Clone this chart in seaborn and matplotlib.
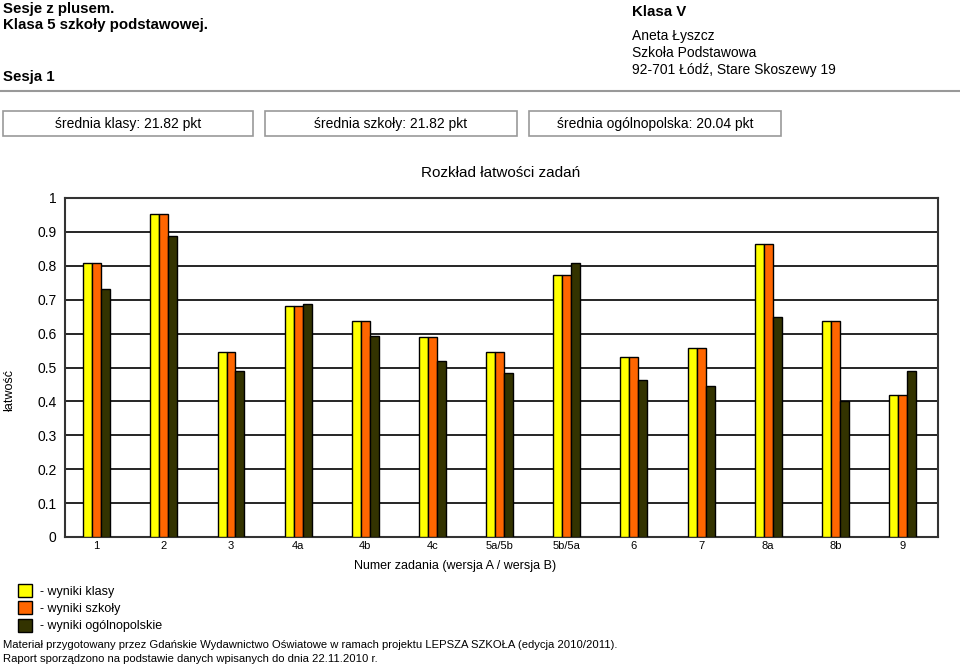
import matplotlib
matplotlib.use("Agg")
import matplotlib.pyplot as plt
import seaborn as sns
import pandas as pd
from matplotlib.patches import Rectangle
from matplotlib.lines import Line2D

categories = ["1", "2", "3", "4a", "4b", "4c", "5a/5b", "5b/5a", "6", "7", "8a", "8b", "9"]
class_vals = [0.807, 0.954, 0.545, 0.682, 0.636, 0.591, 0.545, 0.772, 0.530, 0.557, 0.864, 0.636, 0.420]
school_vals = [0.807, 0.954, 0.545, 0.682, 0.636, 0.591, 0.545, 0.772, 0.530, 0.557, 0.864, 0.636, 0.420]
national_vals = [0.733, 0.889, 0.489, 0.688, 0.592, 0.518, 0.483, 0.809, 0.463, 0.444, 0.648, 0.400, 0.490]
series_names = ["- wyniki klasy", "- wyniki szkoły", "- wyniki ogólnopolskie"]
series_colors = ["#FFFF00", "#FF6600", "#333300"]
ytick_vals = [0, 0.1, 0.2, 0.3, 0.4, 0.5, 0.6, 0.7, 0.8, 0.9, 1.0]
ytick_labels = ["0", "0.1", "0.2", "0.3", "0.4", "0.5", "0.6", "0.7", "0.8", "0.9", "1"]

sns.set_theme(style="white")
plt.rcParams["font.family"] = ["Liberation Sans", "DejaVu Sans"]
plt.rcParams["text.color"] = "black"
plt.rcParams["xtick.color"] = "black"
plt.rcParams["ytick.color"] = "black"
plt.rcParams["axes.labelcolor"] = "black"

rows = []
for name, vals in zip(series_names, [class_vals, school_vals, national_vals]):
    for c, v in zip(categories, vals):
        rows.append({"zadanie": c, "wartosc": v, "seria": name})
df = pd.DataFrame(rows)

fig = plt.figure(figsize=(9.6, 6.68), dpi=100)
ax = fig.add_axes([65/960, 1-537/668, (938-65)/960, (537-198)/668])

sns.barplot(data=df, x="zadanie", y="wartosc", hue="seria", order=categories,
            hue_order=series_names, palette=series_colors, width=0.4,
            edgecolor="black", linewidth=1.0, saturation=1, ax=ax, zorder=3)

ax.set_xlim(-0.472, len(categories) - 0.472)
ax.set_ylim(0, 1)
ax.set_yticks(ytick_vals)
ax.set_yticklabels(ytick_labels, fontsize=10)
ax.tick_params(axis="x", labelsize=8, length=0, pad=3, colors="black")
ax.tick_params(axis="y", length=0, pad=6, colors="black")
ax.yaxis.grid(True, color="black", linewidth=1.2, zorder=0)
ax.set_axisbelow(True)
for s in ax.spines.values():
    s.set_visible(True)
    s.set_color("#333333")
    s.set_linewidth(1.5)
ax.set_xlabel("")
ax.set_ylabel("")

handles, labels = ax.get_legend_handles_labels()
ax.get_legend().remove()
fig.legend(handles, labels, loc="upper left", bbox_to_anchor=(18/960, 1-584/668),
           frameon=False, fontsize=9.0, handlelength=1.1, handleheight=1.2,
           handletextpad=0.62, labelspacing=0.3, borderaxespad=0, borderpad=0)

# Titles and header texts
fig.text(501/960, 1-173/668, "Rozkład łatwości zadań", ha="center", va="center", fontsize=11)
fig.text(455/960, 1-566/668, "Numer zadania (wersja A / wersja B)", ha="center", va="center", fontsize=9)
fig.text(10/960, 1-390/668, "łatwość", ha="center", va="center", rotation=90, fontsize=9)

fig.text(3/960, 1-9/668, "Sesje z plusem.", ha="left", va="center", fontsize=10.8, fontweight="bold")
fig.text(3/960, 1-25/668, "Klasa 5 szkoły podstawowej.", ha="left", va="center", fontsize=10.8, fontweight="bold")
fig.text(3/960, 1-77/668, "Sesja 1", ha="left", va="center", fontsize=10.8, fontweight="bold")
fig.text(632/960, 1-12/668, "Klasa V", ha="left", va="center", fontsize=10.8, fontweight="bold")
fig.text(632/960, 1-36/668, "Aneta Łyszcz", ha="left", va="center", fontsize=10)
fig.text(632/960, 1-53/668, "Szkoła Podstawowa", ha="left", va="center", fontsize=10)
fig.text(632/960, 1-70/668, "92-701 Łódź, Stare Skoszewy 19", ha="left", va="center", fontsize=10)

fig.add_artist(Line2D([0, 1], [1-91/668, 1-91/668], color="#999999", linewidth=1.5))

boxes = [(3, 253, "średnia klasy: 21.82 pkt"), (265, 517, "średnia szkoły: 21.82 pkt"),
         (529, 781, "średnia ogólnopolska: 20.04 pkt")]
for x0, x1, t in boxes:
    fig.add_artist(Rectangle((x0/960, 1-136/668), (x1-x0)/960, 25/668, fill=False,
                             edgecolor="#999999", linewidth=1.2, transform=fig.transFigure))
    fig.text((x0+x1)/2/960, 1-124/668, t, ha="center", va="center", fontsize=10)

fig.text(3/960, 1-645/668, "Materiał przygotowany przez Gdańskie Wydawnictwo Oświatowe w ramach projektu LEPSZA SZKOŁA (edycja 2010/2011).",
         ha="left", va="center", fontsize=8.15)
fig.text(3/960, 1-659/668, "Raport sporządzono na podstawie danych wpisanych do dnia 22.11.2010 r.",
         ha="left", va="center", fontsize=8.15)

fig.savefig("out.png", dpi=100)
